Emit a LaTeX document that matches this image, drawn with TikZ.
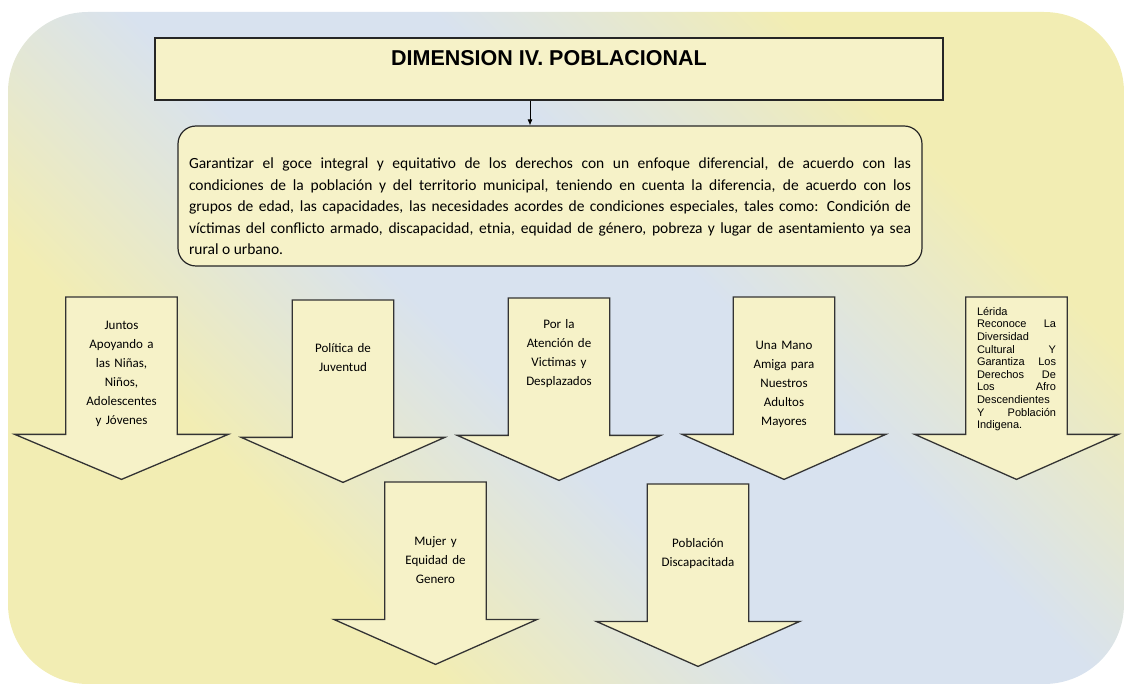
\documentclass[tikz,border=0pt]{standalone}
\usepackage{fontspec}
\setmainfont{Carlito}
\newfontfamily\arialfont{Liberation Sans}
\usetikzlibrary{positioning}
\usetikzlibrary{arrows.meta}
\definecolor{fondoazul}{HTML}{D8E2EF}
\definecolor{fondoamarillo}{HTML}{F2EDB3}
\definecolor{cajaamarilla}{HTML}{F6F2C8}
\pgfdeclareverticalshading{fondo}{100bp}{color(0bp)=(fondoamarillo); color(32bp)=(fondoamarillo);
  color(46bp)=(fondoazul); color(58bp)=(fondoazul); color(72bp)=(fondoamarillo); color(100bp)=(fondoamarillo)}
\pgfdeclarelayer{fondo}
\pgfsetlayers{fondo,main}
\tolerance=9999

\begin{document}
\begin{tikzpicture}[x=1pt,y=-1pt,
      caja/.style={draw=black!85,line width=1.2pt,fill=cajaamarilla},
      stem/.style={minimum width=101pt,minimum height=137pt,anchor=north,inner sep=0pt},
      flecha/.style={draw=black!80,line width=1.3pt,fill=cajaamarilla},
      lbl/.style={inner sep=0pt,text width=92pt,align=center,font=\fontsize{13}{19}\selectfont}]
\useasboundingbox (0,0) rectangle (1125,684);
\node (dim) [caja,minimum width=788pt,minimum height=62pt,text height=16pt,text depth=22.4pt,
  font=\arialfont\bfseries\fontsize{21.5}{24}\selectfont] at (549,69) {DIMENSION IV. POBLACIONAL};
\node (goal) [caja,rounded corners=18pt,minimum width=744pt,minimum height=140pt,text width=722pt,
  align=justify,font=\fontsize{15.5}{21.5}\selectfont] at (550,196)
  {\rule{0pt}{31.6pt}Garantizar el goce integral y equitativo de los derechos con un enfoque diferencial, de acuerdo con las\linebreak
  condiciones de la población y del territorio municipal, teniendo en cuenta la diferencia, de acuerdo con los\linebreak
  grupos de edad, las capacidades, las necesidades acordes de condiciones especiales, tales como: Condición de\linebreak
  víctimas del conflicto armado, discapacidad, etnia, equidad de género, pobreza y lugar de asentamiento ya sea\linebreak
  rural o urbano.};
\draw[-{Latex[length=6pt,width=5pt]},line width=0.8pt] ([xshift=-19pt]dim.south) -- ([xshift=-20pt]goal.north);

% fila de flechas
\node (ninos) [stem,minimum width=111pt] at (121.5,297) {};
\node (juventud) [stem] at (343,300) {};
\node (victimas) [stem] at (559,298) {};
\node (mayores) [stem] at (784,297) {};
\node (afro) [stem] at (1016.5,297) {};
\node (mujer) [stem] at (435.5,482) {};
\node (discap) [stem] at (698,484) {};

\node (ninos-l) [lbl,below=24pt of ninos.north] {Juntos\\Apoyando a\\las Niñas,\\Niños,\\Adolescentes\\y Jóvenes};
\node (juventud-l) [lbl,below=43pt of juventud.north] {Política de\\Juventud};
\node (victimas-l) [lbl,below=21pt of victimas.north] {Por la\\Atención de\\Victimas y\\Desplazados};
\node (mayores-l) [lbl,below=44pt of mayores.north] {Una Mano\\Amiga para\\Nuestros\\Adultos\\Mayores};
\node (afro-l) [lbl,text width=79pt,align=left,font=\arialfont\fontsize{11}{12.6}\selectfont,
  below=10pt of afro.north] {Lérida\\Reconoce\hfill La\\Diversidad\\Cultural\hfill Y\\Garantiza\hfill Los\\Derechos\hfill De\\Los\hfill Afro\\Descendientes\\Y\hfill Población\\Indigena.};
\node (mujer-l) [lbl,below=54pt of mujer.north] {Mujer y\\Equidad de\\Genero};
\node (discap-l) [lbl,below=54pt of discap.north] {Población\\Discapacitada};

\begin{pgfonlayer}{fondo}
\shade[rounded corners=80pt,shading=fondo,shading angle=-45] (8,12) rectangle (1124,684);
\foreach \s in {ninos,juventud,victimas,mayores,afro,mujer,discap}
  \draw[flecha] (\s.north west) -- (\s.south west) -- ++(-51,0) -- ([yshift=-45pt]\s.south)
    -- ([xshift=51pt]\s.south east) -- (\s.south east) -- (\s.north east) -- cycle;
\end{pgfonlayer}
\end{tikzpicture}
\end{document}
